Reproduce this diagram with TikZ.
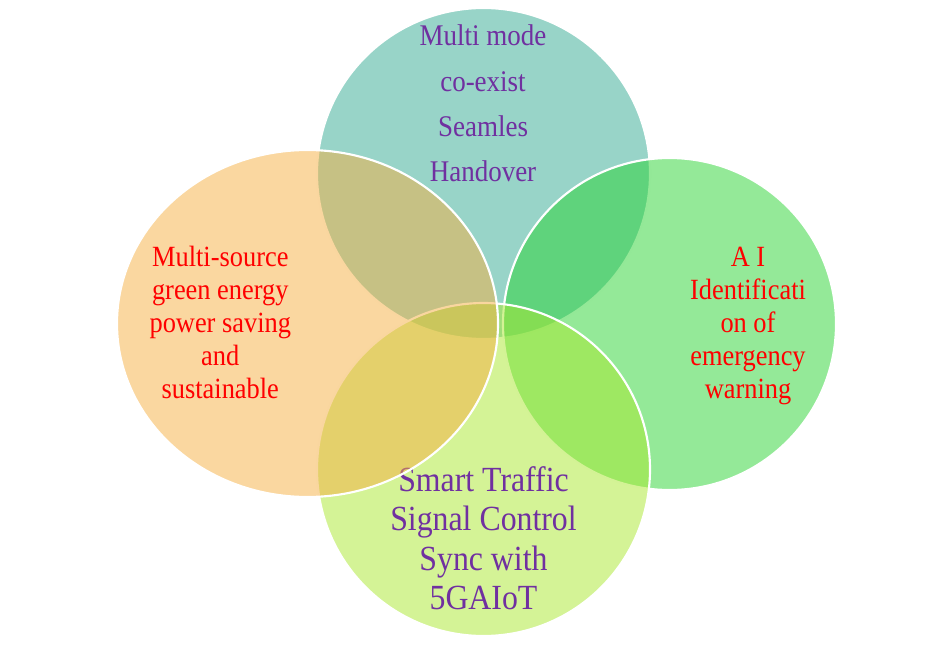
\documentclass[tikz,border=0pt]{standalone}
\usepackage{fontspec}
\setmainfont{Liberation Serif}[FakeStretch=0.9]
\usetikzlibrary{shapes.geometric}

\definecolor{modefill}{RGB}{49,169,145}
\definecolor{energyfill}{RGB}{245,175,65}
\definecolor{aifill}{RGB}{41,211,49}
\definecolor{trafficfill}{RGB}{169,231,45}
\definecolor{txtpurple}{RGB}{112,48,160}
\definecolor{txtred}{RGB}{255,0,0}

\begin{document}
\begin{tikzpicture}[
        x=0.75pt, y=-0.75pt,
        blob/.style={ellipse, draw=white, line width=1.6pt, fill opacity=0.5, inner sep=0pt, outer sep=0pt},
        txt/.style={align=center, inner sep=0pt, font=\fontsize{22pt}{24.75pt}\selectfont}
    ]
        \useasboundingbox (0,0) rectangle (942,645);

        \node[blob, fill=modefill, minimum width=249.75pt, minimum height=248.25pt] (mode) at (483.5,173.5) {};
        \node[txt, text=txtpurple, font=\fontsize{22.5pt}{34pt}\selectfont] (modetxt) at (483,103.6) {Multi mode\\co-exist\\Seamles\\Handover};

        \node[blob, fill=aifill, minimum width=249.75pt, minimum height=249pt] (ai) at (669.5,324) {};
        \node[txt, text=txtred] (aitxt) at (748,326) {A I\\Identificati\\on of\\emergency\\warning};

        \node[blob, fill=trafficfill, minimum width=249.75pt, minimum height=249.75pt] (traffic) at (483.5,469.5) {};
        \node[txt, text=txtpurple, font=\fontsize{26.5pt}{29.6pt}\selectfont] (traffictxt) at (483.5,538) {Smart Traffic\\Signal Control\\Sync with\\5GAIoT};

        \node[blob, fill=energyfill, minimum width=285.75pt, minimum height=260.25pt] (energy) at (307.5,323.5) {};
        \node[txt, text=txtred] (energytxt) at (220.3,322.7) {Multi-source\\green energy\\power saving\\and\\sustainable};
    \end{tikzpicture}
\end{document}
